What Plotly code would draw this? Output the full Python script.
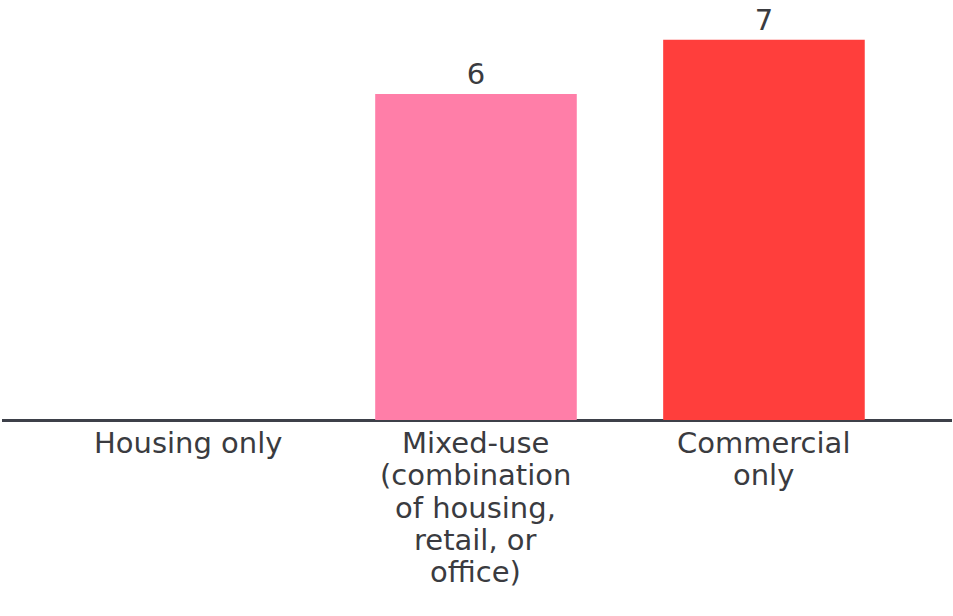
import plotly.graph_objects as go

# Number of projects by building type
categories = ["Housing only", "Mixed-use", "Commercial only"]
counts = [0, 6, 7]
bar_colors = ["#FF7EA8", "#FF7EA8", "#FF3E3C"]

# Category labels, one entry per printed line
label_lines = [
    ["Housing only"],
    ["Mixed-use", "(combination", "of housing,", "retail, or", "office)"],
    ["Commercial", "only"],
]

FONT = "DejaVu Sans"
TEXT_COLOR = "#3a3b40"
LINE_COLOR = "#3d4049"
FONT_SIZE = 29
LINE_STEP = 32.3

fig = go.Figure(
    go.Bar(
        x=categories,
        y=counts,
        marker=dict(color=bar_colors, line=dict(width=0)),
        text=[str(v) if v else "" for v in counts],
        textposition="outside",
        textfont=dict(family=FONT, size=FONT_SIZE, color=TEXT_COLOR),
        cliponaxis=False,
        width=0.70,
    )
)

annotations = []
for cat, lines in zip(categories, label_lines):
    for i, line in enumerate(lines):
        annotations.append(
            dict(
                x=cat,
                y=0,
                xref="x",
                yref="y",
                text=line,
                showarrow=False,
                xanchor="center",
                yanchor="top",
                yshift=-(4 + i * LINE_STEP),
                font=dict(family=FONT, size=FONT_SIZE, color=TEXT_COLOR),
            )
        )

fig.update_layout(
    width=953,
    height=616,
    margin=dict(l=2, r=1, t=0, b=196),
    paper_bgcolor="white",
    plot_bgcolor="white",
    showlegend=False,
    annotations=annotations,
    xaxis=dict(
        type="category",
        range=[-0.646, 2.653],
        showticklabels=False,
        showgrid=False,
        zeroline=False,
        showline=False,
        ticks="",
    ),
    yaxis=dict(
        range=[0, 7.73],
        showticklabels=False,
        showgrid=False,
        zeroline=True,
        zerolinecolor=LINE_COLOR,
        zerolinewidth=3,
        showline=False,
        ticks="",
    ),
)

fig.write_html("out.html")
